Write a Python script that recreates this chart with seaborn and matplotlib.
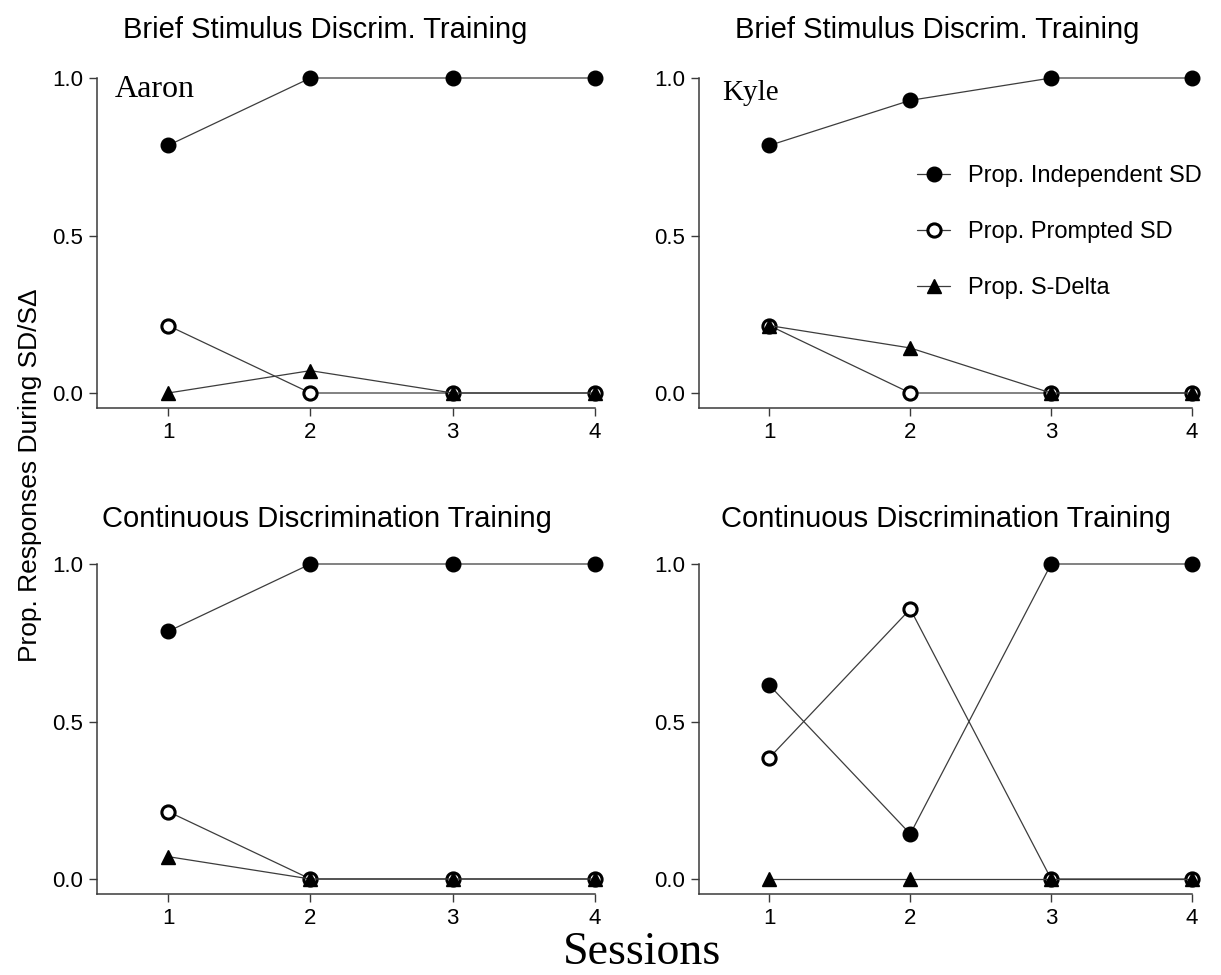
import matplotlib
matplotlib.use("Agg")
import matplotlib.pyplot as plt
import seaborn as sns
import pandas as pd

# Session numbers and per-panel proportions
sessions = [1, 2, 3, 4]

aaron_brief_indep = [0.786, 1.0, 1.0, 1.0]
aaron_brief_prompt = [0.214, 0.0, 0.0, 0.0]
aaron_brief_sdelta = [0.0, 0.071, 0.0, 0.0]

kyle_brief_indep = [0.786, 0.929, 1.0, 1.0]
kyle_brief_prompt = [0.214, 0.0, 0.0, 0.0]
kyle_brief_sdelta = [0.214, 0.143, 0.0, 0.0]

aaron_cont_indep = [0.786, 1.0, 1.0, 1.0]
aaron_cont_prompt = [0.214, 0.0, 0.0, 0.0]
aaron_cont_sdelta = [0.071, 0.0, 0.0, 0.0]

kyle_cont_indep = [0.615, 0.143, 1.0, 1.0]
kyle_cont_prompt = [0.385, 0.857, 0.0, 0.0]
kyle_cont_sdelta = [0.0, 0.0, 0.0, 0.0]

measures = ["Prop. Independent SD", "Prop. Prompted SD", "Prop. S-Delta"]
titles = ["Brief Stimulus Discrim. Training", "Continuous Discrimination Training"]
participants = ["Aaron", "Kyle"]
y_ticks = [0.0, 0.5, 1.0]

panels = {
    (0, 0): [aaron_brief_indep, aaron_brief_prompt, aaron_brief_sdelta],
    (0, 1): [kyle_brief_indep, kyle_brief_prompt, kyle_brief_sdelta],
    (1, 0): [aaron_cont_indep, aaron_cont_prompt, aaron_cont_sdelta],
    (1, 1): [kyle_cont_indep, kyle_cont_prompt, kyle_cont_sdelta],
}

rows = []
for (r, c), series in panels.items():
    for name, vals in zip(measures, series):
        for s, v in zip(sessions, vals):
            rows.append({"row": r, "col": c, "measure": name, "session": s, "value": v})
df = pd.DataFrame(rows)

sns.set_style("ticks")
plt.rcParams["font.family"] = ["Liberation Sans", "DejaVu Sans"]
plt.rcParams["axes.edgecolor"] = "#3a3a3a"
plt.rcParams["axes.linewidth"] = 1.1
plt.rcParams["text.color"] = "black"
plt.rcParams["axes.labelcolor"] = "black"
plt.rcParams["axes.titlecolor"] = "black"
plt.rcParams["xtick.color"] = "#3a3a3a"
plt.rcParams["ytick.color"] = "#3a3a3a"
plt.rcParams["xtick.labelcolor"] = "black"
plt.rcParams["ytick.labelcolor"] = "black"

W, H = 1221, 975
fig = plt.figure(figsize=(W / 100, H / 100), dpi=100)

LINE = "#3c3c3c"
styles = {
    "Prop. Independent SD": dict(marker="o", markersize=10.5, mfc="black", mec="black", mew=1.0),
    "Prop. Prompted SD": dict(marker="o", markersize=9.5, mfc="white", mec="black", mew=2.2),
    "Prop. S-Delta": dict(marker="^", markersize=10.5, mfc="black", mec="black", mew=1.0),
}

# pixel boxes (left, right, top, bottom) of each panel
boxes = {
    (0, 0): (97, 595, 78, 408),
    (0, 1): (699, 1192, 78, 408),
    (1, 0): (97, 595, 564, 894),
    (1, 1): (699, 1192, 564, 894),
}
title_x = {(0, 0): 0.458, (0, 1): 0.484, (1, 0): 0.462, (1, 1): 0.50}
title_pad = {0: 29, 1: 26.5}

axes = {}
for key, (l, r, t, b) in boxes.items():
    ax = fig.add_axes([l / W, 1 - b / H, (r - l) / W, (b - t) / H])
    axes[key] = ax
    sub = df[(df["row"] == key[0]) & (df["col"] == key[1])]
    for name in measures:
        d = sub[sub["measure"] == name]
        sns.lineplot(data=d, x="session", y="value", ax=ax, color=LINE,
                     linewidth=0.9, clip_on=False, label=name, legend=False,
                     **styles[name])
    ax.set_xlim(0.5, 4.0)
    ax.set_ylim(-0.0476, 1.0)
    ax.set_xticks(sessions)
    ax.set_yticks(y_ticks)
    ax.set_yticklabels([f"{v:.1f}" for v in y_ticks])
    ax.tick_params(axis="both", labelsize=16, length=6, width=1.0, pad=4)
    ax.set_xlabel("")
    ax.set_ylabel("")
    sns.despine(ax=ax)
    ax.set_title(titles[key[0]], fontsize=21, x=title_x[key], pad=title_pad[key[0]])

axes[(0, 0)].text(0.036, 0.942, participants[0], transform=axes[(0, 0)].transAxes,
                  fontsize=23, family="Liberation Serif", va="baseline", ha="left")
axes[(0, 1)].text(0.047, 0.933, participants[1], transform=axes[(0, 1)].transAxes,
                  fontsize=21, family="Liberation Serif", va="baseline", ha="left")

handles, labels = axes[(0, 1)].get_legend_handles_labels()
axes[(0, 1)].legend(handles, labels, loc="center left",
                    bbox_to_anchor=(917 / W, 1 - 232 / H), bbox_transform=fig.transFigure,
                    frameon=False, fontsize=17, labelspacing=1.45, handlelength=1.4,
                    handletextpad=0.75, borderpad=0, borderaxespad=0)

fig.text(30 / W, 1 - 475 / H, "Prop. Responses During SD/S\u0394", rotation=90,
         fontsize=19, ha="center", va="center")
fig.text(642 / W, 0.011, "Sessions", fontsize=33, family="Liberation Serif",
         ha="center", va="baseline")

fig.savefig("out.png", dpi=100)
